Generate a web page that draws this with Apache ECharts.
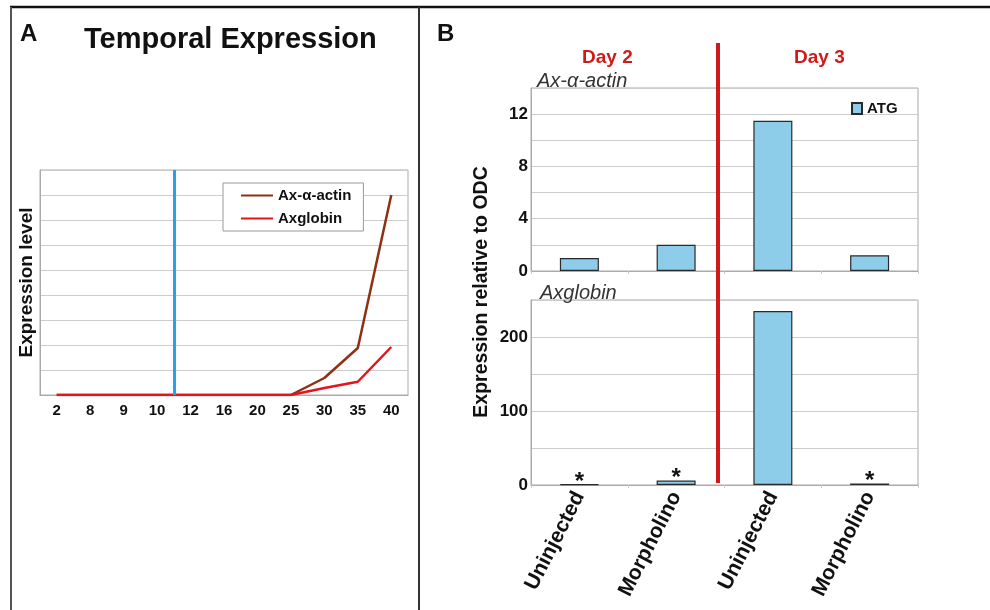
<!DOCTYPE html>
<html>
<head>
<meta charset="utf-8">
<script src="https://cdn.jsdelivr.net/npm/echarts@6/dist/echarts.min.js"></script>
<style>
  html, body { margin: 0; padding: 0; background: #fff; }
  #main { width: 990px; height: 610px; }
</style>
</head>
<body>
<div id="main"></div>
<script>
// panel A: temporal expression (stages)
const stages = ['2', '8', '9', '10', '12', '16', '20', '25', '30', '35', '40'];
const actinLevel = [0, 0, 0, 0, 0, 0, 0, 0, 0.68, 1.88, 8.0];
const globinLevel = [0, 0, 0, 0, 0, 0, 0, 0, 0.28, 0.53, 1.92];
const stageMark = 4; // boundary between stage 10 and 12

// panel B: qPCR relative to ODC
const groups = ['Uninjected', 'Morpholino', 'Uninjected', 'Morpholino'];
const actinATG = [1.0, 2.0, 11.5, 1.2];
const globinATG = [1, 6, 235, 2];
const starMarks = ['*', '*', '', '*'];

const FONT = '"Liberation Sans", Arial, sans-serif';
const barColor = '#8ECDEA';

var myChart = echarts.init(document.getElementById('main'));

option = {
    backgroundColor: '#fff',
    animation: false,
    textStyle: { fontFamily: FONT },
    title: [
        { text: 'A', left: 15, top: 17, textStyle: { fontSize: 24, fontWeight: 'bold', color: '#111', fontFamily: FONT } },
        { text: 'Temporal Expression', left: 79, top: 20, textStyle: { fontSize: 29, fontWeight: 'bold', color: '#111', fontFamily: FONT } },
        { text: 'B', left: 432, top: 17, textStyle: { fontSize: 24, fontWeight: 'bold', color: '#111', fontFamily: FONT } },
        { text: 'Day 2', left: 577, top: 43, textStyle: { fontSize: 19, fontWeight: 'bold', color: '#D01A1A', fontFamily: FONT } },
        { text: 'Day 3', left: 789, top: 43, textStyle: { fontSize: 19, fontWeight: 'bold', color: '#D01A1A', fontFamily: FONT } },
        { text: 'Ax-α-actin', left: 532, top: 66, textStyle: { fontSize: 20, fontWeight: 'normal', fontStyle: 'italic', color: '#333', fontFamily: FONT } },
        { text: 'Axglobin', left: 535, top: 278, textStyle: { fontSize: 20, fontWeight: 'normal', fontStyle: 'italic', color: '#333', fontFamily: FONT } }
    ],
    legend: [{
        data: ['Ax-α-actin', 'Axglobin'],
        left: 223,
        top: 183,
        orient: 'vertical',
        itemGap: 8,
        itemWidth: 32,
        itemHeight: 10,
        padding: [5, 12, 5, 18],
        borderColor: '#999',
        borderWidth: 1,
        backgroundColor: '#fff',
        icon: 'path://M0,4 L32,4 L32,6 L0,6 Z',
        textStyle: { fontSize: 15, fontWeight: 'bold', color: '#111', fontFamily: FONT }
    }, {
        data: ['ATG'],
        left: 846,
        top: 96,
        icon: 'rect',
        itemWidth: 10,
        itemHeight: 11,
        itemGap: 4,
        textStyle: { fontSize: 15, fontWeight: 'bold', color: '#111', fontFamily: FONT }
    }],
    grid: [
        { left: 40, top: 170, width: 368, height: 225, show: true, borderColor: '#aaa', borderWidth: 1, backgroundColor: '#fff' },
        { left: 531, top: 88, width: 387, height: 183, show: true, borderColor: '#aaa', borderWidth: 1, backgroundColor: '#fff' },
        { left: 531, top: 300, width: 387, height: 185, show: true, borderColor: '#aaa', borderWidth: 1, backgroundColor: '#fff' }
    ],
    xAxis: [{
        gridIndex: 0,
        type: 'category',
        data: stages,
        boundaryGap: true,
        axisLine: { lineStyle: { color: '#aaa' } },
        axisTick: { show: false },
        axisLabel: { fontSize: 15, fontWeight: 'bold', color: '#111', margin: 8 }
    }, {
        gridIndex: 0,
        type: 'value',
        min: 0,
        max: stages.length,
        show: false
    }, {
        gridIndex: 1,
        type: 'category',
        data: groups,
        axisLine: { lineStyle: { color: '#aaa' } },
        axisTick: { show: true, length: 3, lineStyle: { color: '#ccc' } },
        axisLabel: { show: false }
    }, {
        gridIndex: 2,
        type: 'category',
        data: groups,
        axisLine: { lineStyle: { color: '#aaa' } },
        axisTick: { show: true, length: 3, lineStyle: { color: '#ccc' } },
        axisLabel: { rotate: 63, fontSize: 21, fontWeight: 'bold', color: '#111', margin: 8, interval: 0 }
    }],
    yAxis: [{
        gridIndex: 0,
        type: 'value',
        min: 0,
        max: 9,
        interval: 1,
        name: 'Expression level',
        nameLocation: 'middle',
        nameGap: 4,
        nameTextStyle: { fontSize: 19, fontWeight: 'bold', color: '#111' },
        axisLine: { show: true, lineStyle: { color: '#aaa' } },
        axisTick: { show: false },
        axisLabel: { show: false },
        splitLine: { lineStyle: { color: '#ccc' } }
    }, {
        gridIndex: 1,
        type: 'value',
        min: 0,
        max: 14,
        interval: 2,
        axisLine: { show: true, lineStyle: { color: '#aaa' } },
        axisTick: { show: false },
        axisLabel: {
            fontSize: 17, fontWeight: 'bold', color: '#111', margin: 3,
            formatter: function(v) { return v % 4 === 0 ? String(v) : ''; }
        },
        splitLine: { lineStyle: { color: '#ccc' } }
    }, {
        gridIndex: 2,
        type: 'value',
        min: 0,
        max: 250,
        interval: 50,
        axisLine: { show: true, lineStyle: { color: '#aaa' } },
        axisTick: { show: false },
        axisLabel: {
            fontSize: 17, fontWeight: 'bold', color: '#111', margin: 3,
            formatter: function(v) { return v % 100 === 0 ? String(v) : ''; }
        },
        splitLine: { lineStyle: { color: '#ccc' } }
    }],
    series: [{
        name: 'Ax-α-actin',
        type: 'line',
        xAxisIndex: 0,
        yAxisIndex: 0,
        data: actinLevel,
        symbol: 'none',
        color: '#8E3013',
        lineStyle: { width: 2.5, color: '#8E3013' }
    }, {
        name: 'Axglobin',
        type: 'line',
        xAxisIndex: 0,
        yAxisIndex: 0,
        data: globinLevel,
        symbol: 'none',
        color: '#E3141B',
        lineStyle: { width: 2.5, color: '#E3141B' }
    }, {
        name: 'stage',
        type: 'line',
        xAxisIndex: 1,
        yAxisIndex: 0,
        data: [],
        markLine: {
            silent: true,
            symbol: 'none',
            label: { show: false },
            lineStyle: { color: '#2AA0EA', width: 3, type: 'solid' },
            data: [{ xAxis: stageMark }]
        }
    }, {
        name: 'ATG',
        type: 'bar',
        xAxisIndex: 2,
        yAxisIndex: 1,
        data: actinATG,
        barWidth: 39,
        itemStyle: { color: barColor, borderColor: '#2a2a2a', borderWidth: 1.2 }
    }, {
        name: 'ATG',
        type: 'bar',
        xAxisIndex: 3,
        yAxisIndex: 2,
        data: globinATG,
        barWidth: 39,
        itemStyle: { color: barColor, borderColor: '#2a2a2a', borderWidth: 1.2 },
        label: {
            show: true,
            position: 'top',
            distance: -10,
            fontSize: 24,
            fontWeight: 'bold',
            color: '#111',
            formatter: function(p) { return starMarks[p.dataIndex]; }
        }
    }],
    graphic: [
        // frame
        { type: 'line', shape: { x1: 10, y1: 7, x2: 990, y2: 7 }, style: { stroke: '#111', lineWidth: 2.5 } },
        { type: 'line', shape: { x1: 11, y1: 7, x2: 11, y2: 610 }, style: { stroke: '#555', lineWidth: 2 } },
        { type: 'line', shape: { x1: 419, y1: 7, x2: 419, y2: 610 }, style: { stroke: '#333', lineWidth: 2 } },
        // Day 2 / Day 3 divider
        { type: 'line', z: 10, shape: { x1: 718, y1: 43, x2: 718, y2: 483 }, style: { stroke: '#D01A1A', lineWidth: 4 } },
        {
            type: 'text',
            x: 482,
            y: 292,
            rotation: Math.PI / 2,
            style: {
                text: 'Expression relative to ODC',
                fontSize: 19.5,
                fontWeight: 'bold',
                fontFamily: FONT,
                fill: '#111',
                align: 'center',
                verticalAlign: 'middle'
            }
        }
    ]
};
myChart.setOption(option);
</script>
</body>
</html>
